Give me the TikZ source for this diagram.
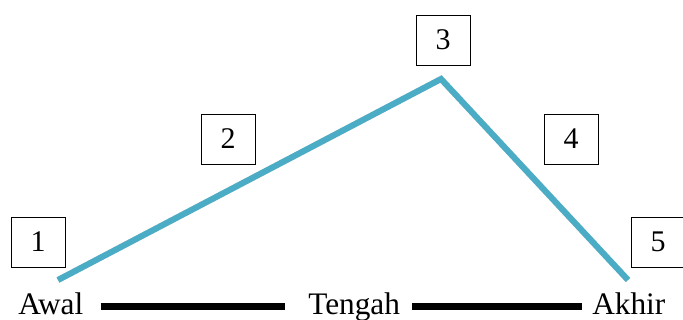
\documentclass[tikz,border=0pt]{standalone}
\usepackage{fontspec}
\setmainfont{Liberation Serif}
\usetikzlibrary{positioning}
\definecolor{ridge}{HTML}{4BACC6}

\begin{document}
\begin{tikzpicture}[
  x=0.75pt, y=-0.75pt,
  numbox/.style={draw, thin, minimum width=40.5pt, minimum height=37.5pt,
                 inner sep=0pt, font=\fontsize{22.5}{27}\selectfont},
  stage/.style={inner sep=0pt, text height=17pt, text depth=4pt,
                font=\fontsize{23.5}{28}\selectfont},
  bar/.style={line width=5.5pt},
  plot/.style={line width=4.5pt, ridge},
  shade/.style={line width=4.5pt, black, opacity=0.18},
]
\useasboundingbox (0,0) rectangle (683,320);

\node[numbox] (n1) at (38, 242) {1};
\node[numbox] (n2) at (228, 139) {2};
\node[numbox] (n3) at (443, 40) {3};
\node[numbox] (n4) at (571, 139) {4};
\node[numbox] (n5) at (658, 242) {5};

\node[stage, anchor=base west] (awal) at (18, 315) {Awal};
\node[stage, anchor=base west] (tengah) at (308, 315) {Tengah};
\node[stage, anchor=base west] (akhir) at (592, 315) {Akhir};

\draw[bar, shorten <=12.75pt, shorten >=17pt] (awal) -- (tengah);
\draw[bar, shorten <=9pt, shorten >=7.5pt] (tengah) -- (akhir);

\coordinate (start) at (58, 280);
\coordinate (peak) at (441, 79);
\coordinate (finish) at (628, 280);

\draw[shade, xshift=1pt, yshift=-1.5pt] (start) -- (peak) -- (finish);
\draw[plot] (start) -- (peak) -- (finish);

\end{tikzpicture}
\end{document}
